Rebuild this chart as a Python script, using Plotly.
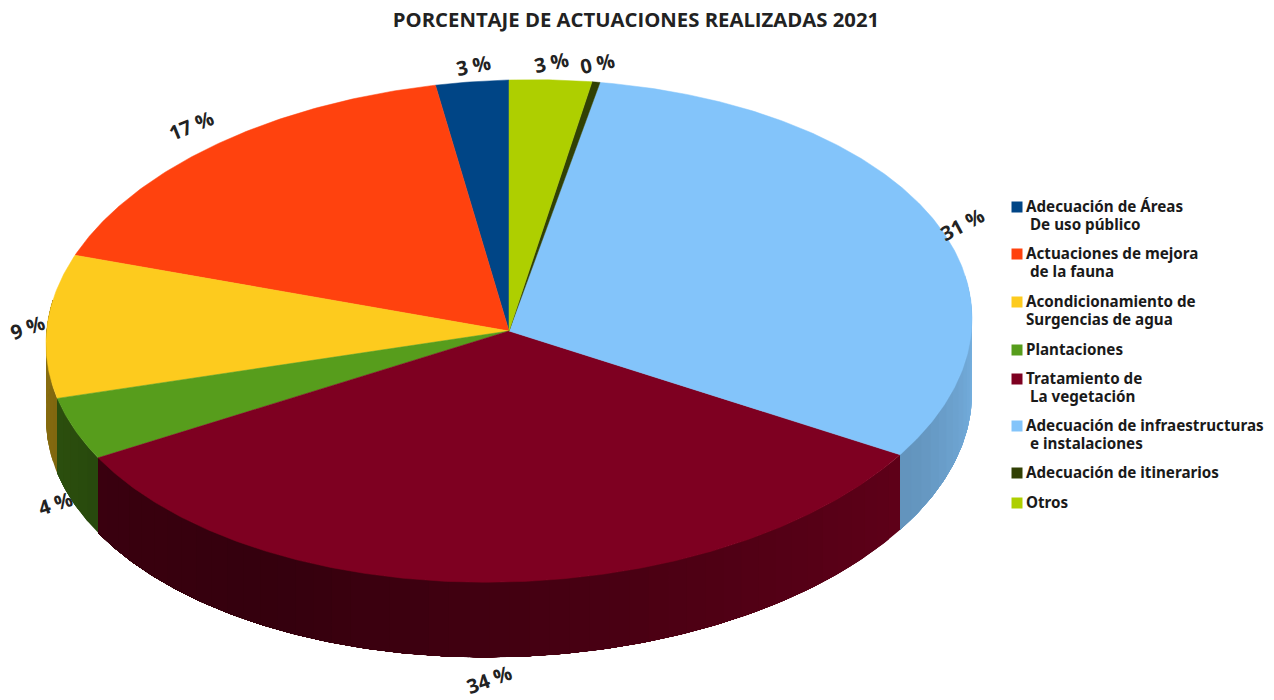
import numpy as np
import plotly.graph_objects as go

categories = ["Adecuación de Áreas", "Actuaciones de mejora", "Acondicionamiento de", "Plantaciones",
              "Tratamiento de", "Adecuación de infraestructuras", "Adecuación de itinerarios", "Otros"]
second_lines = ["De uso público", "de la fauna", "Surgencias de agua", "",
                "La vegetación", "e instalaciones", "", ""]
second_indent = [1, 1, 0, 0, 1, 1, 0, 0]
values = [2.54, 16.8, 9.2, 4.1, 33.4, 30.85, 0.28, 2.87]
percent_labels = ["3 %", "17 %", "9 %", "4 %", "34 %", "31 %", "0 %", "3 %"]
colors = ["#004586", "#ff420e", "#fdcb1e", "#579d1c", "#7e0021", "#83c4fa", "#314004", "#aecf00"]

# Layout constants (pixel-like axes)
CX, CY, RX, RY, DEPTH, TILT = 509, 331, 463, 251, 75, 0.027
label_pos = [(473, 65, -12), (191, 125, -22), (27, 327, -20), (55, 503, -18),
             (489, 679, -20), (962, 224, -28), (597, 63, -12), (551, 62, -12)]
legend_y = [207, 254, 302, 350, 379, 426, 473, 503]
LEG_X = 1017
LINE_H = 18

def pt(theta):
    t = np.radians(theta)
    x = CX + RX * np.sin(t)
    return x, CY - RY * np.cos(t) - TILT * (x - CX)

def shade(hexcol, theta):
    f = np.interp(theta, [90, 120, 210, 240, 270], [0.9, 0.76, 0.42, 0.46, 0.54])
    rgb = [int(hexcol[i:i + 2], 16) for i in (1, 3, 5)]
    return "rgb(%d,%d,%d)" % tuple(int(c * f) for c in rgb)

fig = go.Figure()
total = sum(values)
edges = 360 - np.cumsum([0] + values) / total * 360  # counter-clockwise from 12 o'clock

# Side wall (front half, a little beyond for the tilt): overlapping strips, so no seams show
for i, name in enumerate(categories):
    hi, lo = edges[i], edges[i + 1]
    a, b = max(lo, 80), min(hi, 280)
    if a >= b:
        continue
    n = max(1, int((b - a) / 2.5))
    steps = np.linspace(a, b, n + 1)
    for s0, s1 in zip(steps[:-1], steps[1:]):
        th = np.linspace(s0, b, max(3, int((b - s0) * 2)))  # each strip runs to the slice's end
        x, y = pt(th)
        col = shade(colors[i], (s0 + s1) / 2)
        fig.add_trace(go.Scatter(
            x=np.r_[x, x[::-1]], y=np.r_[y, y[::-1] + DEPTH], mode="lines", fill="toself",
            fillcolor=col, line=dict(width=0), hoverinfo="skip", showlegend=False))

# Top face
for i, name in enumerate(categories):
    th = np.linspace(edges[i], edges[i + 1], max(3, int((edges[i] - edges[i + 1]) * 2)))
    x, y = pt(th)
    fig.add_trace(go.Scatter(
        x=np.r_[CX, x, CX], y=np.r_[CY, y, CY], mode="lines", fill="toself",
        fillcolor=colors[i], line=dict(color=colors[i], width=0.5),
        name=name, hoverinfo="name", showlegend=False))

# Legend swatches
fig.add_trace(go.Scatter(
    x=[LEG_X] * len(categories), y=legend_y, mode="markers",
    marker=dict(symbol="square", size=11, color=colors), hoverinfo="skip", showlegend=False))

ann = []
LABEL_FONT = dict(family="Open Sans", size=20, color="#222222", weight=700)
for lab, (x, y, ang) in zip(percent_labels, label_pos):
    ann.append(dict(x=x, y=y, text=lab, showarrow=False, textangle=ang, font=LABEL_FONT))

LEG_FONT = dict(family="Noto Sans", size=15.2, color="#1a1a1a", weight=700)
for i, cat in enumerate(categories):
    ann.append(dict(x=1024, y=legend_y[i] - 1, text=cat, showarrow=False, xanchor="left", yanchor="middle", font=LEG_FONT))
    if second_lines[i]:
        ann.append(dict(x=1024 + 4 * second_indent[i], y=legend_y[i] - 1 + LINE_H, text=second_lines[i],
                        showarrow=False, xanchor="left", yanchor="middle", font=LEG_FONT))

fig.update_layout(
    width=1274, height=700, autosize=False,
    margin=dict(l=0, r=0, t=0, b=0),
    paper_bgcolor="white", plot_bgcolor="white", showlegend=False,
    title=dict(text="PORCENTAJE DE ACTUACIONES REALIZADAS 2021", x=636 / 1274, y=1 - 20 / 700,
               xanchor="center", yanchor="middle",
               font=dict(family="Open Sans", size=20.3, color="#222222", weight=700)),
    xaxis=dict(range=[0, 1274], visible=False, fixedrange=True),
    yaxis=dict(range=[700, 0], visible=False, fixedrange=True),
    annotations=ann,
)

fig.write_html("out.html", config={"displayModeBar": False},
               post_script="document.body.style.margin='0';document.body.style.overflow='hidden';")
